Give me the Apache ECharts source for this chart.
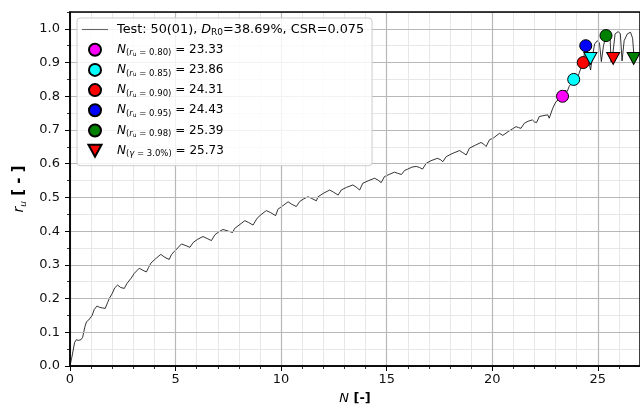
<!DOCTYPE html>
<html><head><meta charset="utf-8">
<script src="https://cdn.jsdelivr.net/npm/echarts@6/dist/echarts.min.js"></script>
<style>html,body{margin:0;padding:0;background:#fff}#c{width:640px;height:411px}</style>
</head><body><div id="c"></div>
<script>
// ---- data ----
const curveN = [0.00,0.10,0.22,0.30,0.40,0.52,0.60,0.70,0.78,0.88,0.95,1.05,1.15,1.28,1.40,1.55,1.67,1.78,1.86,2.00,2.12,2.25,2.40,2.57,2.70,2.89,3.05,3.28,3.45,3.62,3.72,3.83,4.05,4.30,4.50,4.70,4.80,4.93,5.10,5.28,5.45,5.68,5.83,6.05,6.30,6.50,6.70,6.86,7.05,7.25,7.45,7.70,7.80,8.05,8.28,8.45,8.67,8.86,9.05,9.30,9.50,9.74,9.85,10.05,10.33,10.50,10.72,10.88,11.05,11.27,11.45,11.67,11.75,12.00,12.30,12.50,12.70,12.85,13.10,13.40,13.55,13.72,13.87,14.15,14.43,14.60,14.74,14.90,15.15,15.37,15.50,15.70,15.85,16.00,16.20,16.40,16.55,16.70,16.87,17.10,17.40,17.55,17.66,17.82,18.10,18.45,18.60,18.77,18.92,19.20,19.47,19.60,19.71,19.87,20.05,20.34,20.50,20.58,20.75,20.95,21.13,21.25,21.36,21.52,21.70,21.90,22.00,22.10,22.23,22.45,22.63,22.70,22.87,23.02,23.15,23.25,23.33,23.45,23.55,23.65,23.75,23.86,23.95,24.05,24.15,24.25,24.31,24.37,24.43,24.50,24.58,24.66,24.75,24.85,24.98,25.08,25.17,25.27,25.39,25.50,25.58,25.63,25.72,25.82,25.97,26.07,26.15,26.25,26.40,26.55,26.65,26.73];
const curveRu = [0.000,0.030,0.070,0.078,0.076,0.078,0.085,0.115,0.131,0.136,0.137,0.150,0.168,0.178,0.174,0.172,0.171,0.188,0.200,0.215,0.232,0.240,0.233,0.230,0.245,0.260,0.275,0.290,0.284,0.279,0.292,0.305,0.318,0.331,0.322,0.316,0.330,0.339,0.350,0.362,0.358,0.352,0.366,0.376,0.384,0.378,0.372,0.389,0.398,0.405,0.401,0.396,0.408,0.420,0.431,0.426,0.418,0.438,0.449,0.461,0.455,0.446,0.465,0.474,0.487,0.480,0.473,0.488,0.495,0.502,0.497,0.490,0.502,0.512,0.522,0.515,0.507,0.522,0.530,0.537,0.531,0.522,0.542,0.550,0.557,0.551,0.544,0.562,0.569,0.575,0.572,0.568,0.580,0.584,0.590,0.592,0.589,0.584,0.601,0.609,0.616,0.612,0.606,0.621,0.630,0.639,0.633,0.626,0.646,0.655,0.663,0.658,0.651,0.671,0.676,0.690,0.684,0.680,0.695,0.703,0.710,0.707,0.705,0.720,0.726,0.730,0.724,0.722,0.740,0.743,0.745,0.735,0.765,0.784,0.790,0.792,0.800,0.818,0.814,0.830,0.838,0.850,0.862,0.856,0.875,0.893,0.900,0.930,0.950,0.935,0.900,0.878,0.920,0.955,0.965,0.958,0.903,0.950,0.980,0.992,0.982,0.900,0.930,0.985,0.992,0.985,0.905,0.965,0.985,0.990,0.972,0.905];
const ruLevels = [0.80, 0.85, 0.90, 0.95, 0.98];
const ruLevelLabels = ['0.80', '0.85', '0.90', '0.95', '0.98'];
const nAtRuLevels = [23.33, 23.86, 24.31, 24.43, 25.39];
const strainN = [24.65, 25.73, 26.70];
const strainRu = [0.912, 0.912, 0.912];
const strainLabel = '3.0%';
const nAtStrain = 25.73;
const testTitle = ['Test: 50(01), ', 'D', 'R0', '=38.69%, CSR=0.075'];

// ---- styles ----
const circleColors = ['#ff00ff', '#00ffff', '#ff0000', '#0000ff', '#008000'];
const triColors = ['#00ffff', '#ff0000', '#008000'];
const FONT = 'DejaVu Sans';
const TRI_DOWN = 'path://M0,0 L12,0 L6,11 Z';
const LINE_ICON = 'path://M0,0 L26,0 L26,1.1 L0,1.1 Z';

const series = [];
series.push({
  name: 'test', type: 'line', xAxisIndex: 0, yAxisIndex: 0,
  data: curveN.map((n, i) => [n, curveRu[i]]),
  symbol: 'none', lineStyle: { color: '#000', width: 0.8 }, itemStyle: { color: '#000' },
  z: 3, silent: true, animation: false
});
ruLevels.forEach((r, i) => {
  series.push({
    name: 'ru' + i, type: 'scatter', xAxisIndex: 0, yAxisIndex: 0,
    data: [[nAtRuLevels[i], r]], symbol: 'circle', symbolSize: 12,
    itemStyle: { color: circleColors[i], borderColor: '#000', borderWidth: 1, opacity: 1 },
    z: 5, animation: false
  });
});
strainN.forEach((n, i) => {
  series.push({
    name: i === 1 ? 'gamma' : 'gam' + i, type: 'scatter', xAxisIndex: 0, yAxisIndex: 0,
    data: [[n, strainRu[i]]], symbol: TRI_DOWN, symbolSize: [13, 12],
    itemStyle: { color: triColors[i], borderColor: '#000', borderWidth: 1, opacity: 1 },
    z: 5, animation: false
  });
});

const legendText = { test: '{T|' + testTitle[0] + '}{Ti|' + testTitle[1] + '}{Ts|' + testTitle[2] + '}{T|' + testTitle[3] + '}' };
ruLevels.forEach((r, i) => {
  legendText['ru' + i] = '{i|N}{s|(}{si|r}{ss|u}{s| = ' + ruLevelLabels[i] + ')}{t| = ' + nAtRuLevels[i].toFixed(2) + '}';
});
legendText['gamma'] = '{i|N}{s|(}{si|γ}{s| = ' + strainLabel + ')}{t| = ' + nAtStrain.toFixed(2) + '}';

const majorGrid = { show: true, lineStyle: { color: '#b8b8b8', width: 1.2 } };
const minorGrid = { show: true, lineStyle: { color: '#e4e4e4', width: 0.9 } };
const labelStyle = { fontFamily: FONT, fontSize: 13, color: '#111' };

const chart = echarts.init(document.getElementById('c'), null, { renderer: 'canvas' });
chart.setOption({
  animation: false,
  backgroundColor: '#fff',
  grid: { left: 70, right: -2, top: 12, bottom: 45, show: true, borderColor: '#000', borderWidth: 1.5, backgroundColor: 'transparent', z: 10 },
  xAxis: [
    { type: 'value', min: 0, max: 27, interval: 5, position: 'bottom', z: 4,
      axisLine: { show: true, lineStyle: { color: '#000', width: 1.5 } },
      axisTick: { show: true, length: 5, lineStyle: { color: '#000', width: 1 } },
      axisLabel: { show: true, margin: 7, showMaxLabel: false, ...labelStyle },
      splitLine: majorGrid,
      name: '{i|N}{b| [-]}', nameLocation: 'middle', nameGap: 26,
      nameTextStyle: { fontFamily: FONT, fontSize: 13, color: '#000',
        rich: { i: { fontStyle: 'italic', fontSize: 13, fontFamily: FONT }, b: { fontWeight: 'bold', fontSize: 13, fontFamily: FONT } } } },
    { type: 'value', min: 0, max: 27, interval: 1, position: 'bottom', z: 1,
      axisLine: { show: false },
      axisTick: { show: true, length: 3, lineStyle: { color: '#000', width: 0.8 } },
      axisLabel: { show: false },
      splitLine: minorGrid }
  ],
  yAxis: [
    { type: 'value', min: 0, max: 1.05, interval: 0.1, position: 'left', z: 4,
      axisLine: { show: true, lineStyle: { color: '#000', width: 1.5 } },
      axisTick: { show: true, length: 5, lineStyle: { color: '#000', width: 1 } },
      axisLabel: { show: true, margin: 10, showMaxLabel: false, formatter: v => v.toFixed(1), ...labelStyle },
      splitLine: majorGrid,
      name: '{i|r}{s|u}{b| [ - ]}', nameLocation: 'middle', nameGap: 36, nameRotate: 90,
      nameTextStyle: { fontFamily: FONT, fontSize: 13, color: '#000',
        rich: { i: { fontStyle: 'italic', fontSize: 14, fontFamily: FONT, lineHeight: 18 },
                s: { fontStyle: 'italic', fontSize: 9, fontFamily: FONT, lineHeight: 10, verticalAlign: 'bottom' },
                b: { fontWeight: 'bold', fontSize: 15, fontFamily: FONT, lineHeight: 18 } } } },
    { type: 'value', min: 0, max: 1.05, interval: 0.05, position: 'left', z: 1,
      axisLine: { show: false },
      axisTick: { show: true, length: 3, lineStyle: { color: '#000', width: 0.8 } },
      axisLabel: { show: false },
      splitLine: minorGrid }
  ],
  legend: {
    show: true, orient: 'vertical', left: 77, top: 18,
    padding: [5, 8, 7, 5], itemGap: 5.2, itemWidth: 26, itemHeight: 12,
    backgroundColor: 'rgba(255,255,255,0.82)', borderColor: '#cccccc', borderWidth: 1, borderRadius: 3,
    data: [
      { name: 'test', icon: LINE_ICON, itemStyle: { color: '#666', borderWidth: 0 } },
      'ru0', 'ru1', 'ru2', 'ru3', 'ru4',
      { name: 'gamma', icon: TRI_DOWN }
    ],
    selectedMode: false,
    formatter: name => '{p| }' + legendText[name],
    textStyle: { fontFamily: FONT, fontSize: 12, color: '#000',
      rich: {
        p: { width: 4, fontSize: 12, lineHeight: 16 },
        T: { fontSize: 12.8, lineHeight: 16, fontFamily: FONT },
        Ti: { fontSize: 12.8, lineHeight: 16, fontStyle: 'italic', fontFamily: FONT },
        Ts: { fontSize: 9, lineHeight: 9, verticalAlign: 'bottom', fontFamily: FONT },
        t: { fontSize: 12, lineHeight: 16, fontFamily: FONT },
        i: { fontSize: 12, lineHeight: 16, fontStyle: 'italic', fontFamily: FONT },
        s: { fontSize: 8.5, lineHeight: 9, verticalAlign: 'bottom', fontFamily: FONT },
        si: { fontSize: 8.5, lineHeight: 9, verticalAlign: 'bottom', fontStyle: 'italic', fontFamily: FONT },
        ss: { fontSize: 6, lineHeight: 5, verticalAlign: 'bottom', fontFamily: FONT }
      } },
    z: 20
  },
  series: series
});
</script></body></html>
